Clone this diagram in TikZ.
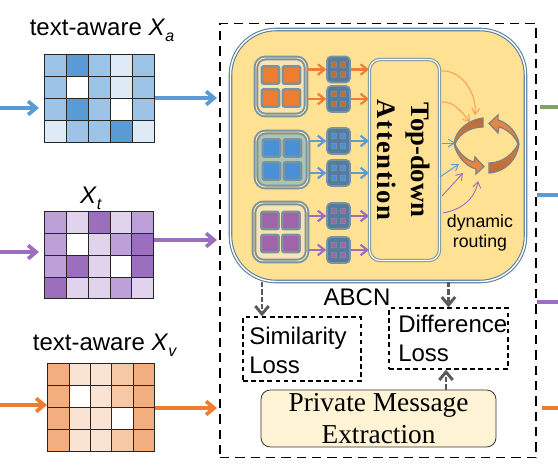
\documentclass[tikz,border=0pt]{standalone}
\usepackage{fontspec}
\setmainfont{Liberation Serif}
\setsansfont{Liberation Sans}
\usepackage{xcolor}
\usetikzlibrary{arrows.meta, positioning, calc}
\definecolor{blued}{HTML}{5B9BD5}
\definecolor{bluem}{HTML}{9DC3E6}
\definecolor{bluel}{HTML}{DEEAF6}
\definecolor{bluew}{HTML}{FFFFFF}
\definecolor{purpd}{HTML}{9C6FBE}
\definecolor{purpm}{HTML}{BDA0D8}
\definecolor{purpl}{HTML}{E1D3EC}
\definecolor{purpw}{HTML}{FFFFFF}
\definecolor{orand}{HTML}{F2AE7F}
\definecolor{oranm}{HTML}{F6C8A6}
\definecolor{oranl}{HTML}{FAE3D3}
\definecolor{oranw}{HTML}{FFFFFF}
\definecolor{ink}{HTML}{ED7D31}
\definecolor{greenout}{HTML}{7FA65F}
\definecolor{yellowbg}{HTML}{FFE194}
\definecolor{rim}{HTML}{7A939C}
\definecolor{abcnrim}{HTML}{6F9BC4}
\definecolor{creambg}{HTML}{FFF3D6}
\definecolor{lossarrow}{HTML}{595959}
\definecolor{smallbg}{HTML}{557C9E}
\definecolor{brownarc}{HTML}{BC6C36}
\definecolor{orangearc}{HTML}{EC8A45}
\definecolor{iconcream}{HTML}{FBE4B4}
\definecolor{iconsage}{HTML}{ABC5B2}
\definecolor{iconblue}{HTML}{4A90D6}
\definecolor{iconpurp}{HTML}{A064A8}
\newcommand{\subx}[1]{\raisebox{-4.5pt}{\fontsize{12}{12}\selectfont\textit{#1}}}
% node size given in pixels of the reference
\newcommand{\cellgrid}[5]{%
  \begin{scope}[shift={(#1.north west)}]
    \foreach \row [count=\j from 0] in {#5}
      \foreach \c [count=\i from 0] in \row
        \draw[cellb, fill=#2\c] (\i*#3,\j*#4) rectangle ++(#3,#4);
  \end{scope}}
\newcommand{\bigicon}[6]{%
  \node[bigb, sz={#4}{#5}, fill=#6] (#1) at (#2) {};
  \foreach \dx/\dy in {-10.5/-11.5, 10.5/-11.5, -10.5/11.5, 10.5/11.5}
    \node[innb, sz={17.5}{17.5}, fill=#3] at ($(#1)+(\dx,\dy)$) {};}
\newcommand{\smallicon}[3]{%
  \node[smallb, sz={23}{26}] (#1) at (#2) {};
  \foreach \dx/\dy in {-4.5/-5, 4.5/-5, -4.5/5, 4.5/5}
    \node[tinyb, sz={5.5}{5.5}, fill=#3] at ($(#1)+(\dx,\dy)$) {};}
\tikzset{
  sz/.style 2 args={minimum width=#1*0.75pt, minimum height=#2*0.75pt, inner sep=0pt},
  cellb/.style={draw=black!85, line width=0.7pt},
  txt/.style={font=\sffamily\fontsize{18}{21.75}\selectfont, inner sep=0pt, align=left},
  frm/.style={draw=black, line width=1.4pt, dash pattern=on 7pt off 4.5pt},
  abcn/.style={draw=abcnrim!80!black, double=white, line width=0.8pt, double distance=1.1pt, fill=yellowbg, rounded corners=34pt},
  att/.style={draw=rim, double=white, line width=0.8pt, double distance=0.9pt, fill=yellowbg, rounded corners=8pt},
  bigb/.style={draw=rim, double=iconcream, line width=1.4pt, double distance=0.7pt, rounded corners=7pt},
  innb/.style={draw=rim, line width=1.8pt, rounded corners=1.5pt},
  smallb/.style={draw=rim, fill=smallbg, line width=1.2pt, rounded corners=3pt},
  tinyb/.style={draw=rim, line width=0.6pt, rounded corners=0.5pt},
  a/.style={-{Straight Barb[length=6pt, width=10pt]}, line width=2.8pt},
  am/.style={-{Straight Barb[length=5pt, width=8pt]}, line width=1.6pt},
  athin/.style={-{Straight Barb[length=4.5pt, width=6pt]}, line width=0.7pt},
  al/.style={-{Straight Barb[length=6pt, width=10pt]}, draw=lossarrow, line width=2.2pt, dash pattern=on 4pt off 1.5pt},
  lossb/.style={draw=black, line width=1pt, dash pattern=on 3.5pt off 2.6pt},
  arcb/.style={draw=gray, line width=0.9pt},
}
\begin{document}
\begin{tikzpicture}[x=0.75pt, y=-0.75pt]
\useasboundingbox (0,0) rectangle (558,468);

% input grids
\node[txt, anchor=center] (la) at (102,30) {text-aware \textit{X}\subx{a}};
\node[sz={110}{88}] (xa) at (100,99) {};
\cellgrid{xa}{blue}{22}{22}{{m,d,m,l,m},{m,w,m,l,m},{m,d,m,w,m},{l,m,m,d,l}}
\node[txt, anchor=center] (lt) at (91,198) {\textit{X}\subx{t}};
\node[sz={109}{87}] (xt) at (99.5,255.5) {};
\cellgrid{xt}{purp}{21.8}{21.75}{{m,l,d,l,m},{m,w,l,m,d},{m,d,l,w,d},{d,l,l,m,l}}
\node[txt, anchor=center] (lv) at (105,345) {text-aware \textit{X}\subx{v}};
\node[sz={107}{88}] (xv) at (101.5,408) {};
\cellgrid{xv}{oran}{21.4}{22}{{d,l,l,m,d},{d,w,l,m,d},{d,l,l,w,d},{d,l,l,m,d}}

% outer frame and ABCN
\node[frm, sz={316}{434}] (frame) at (378,240.5) {};
\node[abcn, sz={295}{252}] (abcnbox) at (378,155.5) {};
\node[att, sz={70}{201}] (attn) at (404.5,160) {};
\node[rotate=-90, align=center, font=\bfseries\fontsize{20}{25}\selectfont] (attxt) at (403.5,160) {Top-down\\{\addfontfeatures{LetterSpace=5.6}Attention}};

% free ends
\coordinate (ina) at (0,108);
\coordinate (ena) at (39,108);
\coordinate (int) at (0,252);
\coordinate (ent) at (39,252);
\coordinate (inv) at (0,405);
\coordinate (env) at (47,405);
\coordinate (ga) at (217,98);
\coordinate (gt) at (217,240);
\coordinate (gv) at (217,408);
\coordinate (oga) at (540,107);
\coordinate (ogb) at (537,195);
\coordinate (ogc) at (537,302);
\coordinate (ogd) at (542,408);
\coordinate (rga) at (558,107);
\coordinate (rgb) at (558,195);
\coordinate (rgc) at (558,302);
\coordinate (rgd) at (558,408);

\draw[a, blued] (ina) -- (ena);
\draw[a, purpd] (int) -- (ent);
\draw[a, ink] (inv) -- (env);
\draw[a, blued] (xa.east |- ga) -- (ga);
\draw[a, purpd] (xt.east |- gt) -- (gt);
\draw[a, ink] (xv.east |- gv) -- (gv);
\draw[line width=2.8pt, greenout] (oga) -- (rga);
\draw[line width=2.8pt, blued] (ogb) -- (rgb);
\draw[line width=2.8pt, purpd] (ogc) -- (rgc);
\draw[line width=2.8pt, ink] (ogd) -- (rgd);

% feature icons
\bigicon{ol}{281,86.5}{ink}{50}{57}{iconcream}
\bigicon{bl}{282,159.5}{iconblue}{52}{55}{iconsage}
\bigicon{pl}{280.5,232}{iconpurp}{53}{58}{iconcream}
\smallicon{oa}{338.5,69.5}{ink!85!black}
\smallicon{ob}{338.5,99}{ink!85!black}
\smallicon{ba}{338.5,141}{iconblue}
\smallicon{bb}{338.5,173}{iconblue}
\smallicon{pa}{338.5,216}{iconpurp}
\smallicon{pb}{338.5,250}{iconpurp}

\draw[am, ink] (ol.east |- oa) -- (oa.west);
\draw[am, ink] (ol.east |- ob) -- (ob.west);
\draw[am, blued] (bl.east |- ba) -- (ba.west);
\draw[am, blued] (bl.east |- bb) -- (bb.west);
\draw[am, purpd] (pl.east |- pa) -- (pa.west);
\draw[am, purpd] (pl.east |- pb) -- (pb.west);
\draw[am, ink] (oa.east) -- (oa -| attn.west);
\draw[am, ink] (ob.east) -- (ob -| attn.west);
\draw[am, blued] (ba.east) -- (ba -| attn.west);
\draw[am, blued] (bb.east) -- (bb -| attn.west);
\draw[am, purpd] (pa.east) -- (pa -| attn.west);
\draw[am, purpd] (pb.east) -- (pb -| attn.west);

% dynamic routing
\shade[arcb, top color=brownarc, bottom color=orangearc] (483,118) .. controls (468,120) and (456,130) .. (454,143) .. controls (456,155) and (465,166) .. (476,169) -- (476,174) -- (484,166.5) -- (475,157) -- (474,162) .. controls (466,160) and (458,152) .. (455,144) .. controls (459,134) and (470,127) .. (483,127) -- cycle;
\shade[arcb, top color=orangearc, bottom color=brownarc] (489,173) .. controls (505,172) and (517,160) .. (519,144) .. controls (517,132) and (508,123) .. (498,120) -- (498,115) -- (489,123.5) -- (498,133) -- (499,127) .. controls (507,129) and (515,136) .. (518,144) .. controls (514,153) and (503,163) .. (489,163) -- cycle;
\coordinate (ra) at (475,115);
\coordinate (rb) at (470,122);
\coordinate (rc) at (455,143);
\coordinate (rd) at (459,164);
\coordinate (re) at (463,173);
\coordinate (rf) at (478,181);
\coordinate (sa) at (440,71);
\coordinate (sb) at (440,102);
\coordinate (sc) at (442,143);
\coordinate (sd) at (440,177);
\coordinate (se) at (442,196);
\coordinate (sf) at (443,213);
\draw[athin, ink!70!yellowbg] (sa) to[out=5, in=85] (ra);
\draw[athin, ink!70!yellowbg] (sb) to[out=5, in=130] (rb);
\draw[athin, blued] (sc) -- (rc);
\draw[athin, blued] (sd) -- (rd);
\draw[athin, purpd] (se) -- (re);
\draw[athin, purpd] (sf) to[out=10, in=-100] (rf);
\node[txt, anchor=center, align=center, font=\sffamily\fontsize{13.3}{15.6}\selectfont] (rt) at (480,233) {dynamic\\routing};

% losses
\node[txt, anchor=center] (abcnl) at (357,297) {ABCN};
\node[lossb, sz={118}{64}] (sim) at (302,349) {};
\node[txt, anchor=west] (simt) at (249,350.5) {Similarity\\Loss};
\node[lossb, sz={119}{61}] (dif) at (448.5,338.5) {};
\node[txt, anchor=west] (dift) at (398,338.5) {Difference\\Loss};
\node[draw=black!80, fill=creambg, line width=0.6pt, rounded corners=7pt, sz={235}{57}, align=center, font=\fontsize{20.5}{24}\selectfont] (pme) at (378.5,418.5) {Private Message\\Extraction};
\coordinate (xsim) at (262,0);
\coordinate (xpme) at (446,0);
\draw[al] (abcnbox.south -| xsim) -- (sim.north -| xsim);
\draw[al] (abcnbox.south -| dif) -- (dif.north);
\draw[al] (pme.north -| xpme) -- (dif.south -| xpme);
\end{tikzpicture}
\end{document}
